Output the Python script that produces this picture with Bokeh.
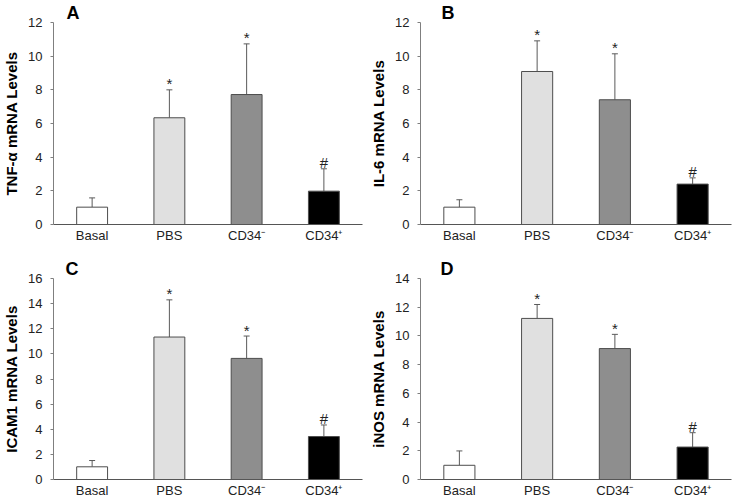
from bokeh.plotting import figure
from bokeh.layouts import gridplot
from bokeh.models import ColumnDataSource, Whisker, TeeHead, FactorRange, Range1d, FixedTicker
from bokeh.embed import file_html
from bokeh.resources import INLINE
from bokeh.core.properties import value

categories = ["Basal", "PBS", "CD34\u207b", "CD34\u207a"]
bar_colors = ["#ffffff", "#e0e0e0", "#8e8e8e", "#000000"]
sig_marks = ["", "*", "*", "#"]

tnf_mean = [1.03, 6.34, 7.72, 1.98]
tnf_err = [0.55, 1.66, 3.01, 1.33]
il6_mean = [1.03, 9.09, 7.41, 2.40]
il6_err = [0.44, 1.82, 2.73, 0.37]
icam_mean = [1.01, 11.34, 9.64, 3.42]
icam_err = [0.50, 2.96, 1.78, 0.92]
inos_mean = [0.99, 11.22, 9.12, 2.26]
inos_err = [1.00, 0.97, 0.99, 1.00]

FONT = "Liberation Sans"


def panel(means, errs, ymax, ylabel, letter, width, height, bl, br, bt, bb, letter_dx):
    p = figure(x_range=FactorRange(*categories), y_range=Range1d(0, ymax),
               width=width, height=height, output_backend="svg", toolbar_location=None,
               min_border_left=bl, min_border_right=br, min_border_top=bt, min_border_bottom=bb,
               title=letter)
    upper = [m + e for m, e in zip(means, errs)]
    src = ColumnDataSource(dict(x=categories, top=means, lower=means, upper=upper,
                                color=bar_colors, mark=sig_marks))
    p.vbar(x="x", top="top", width=0.4, source=src, fill_color="color",
           line_color="#4d4d4d", line_width=1)
    w = Whisker(base="x", lower="lower", upper="upper", source=src,
                line_color="#5a5a5a", line_width=1,
                upper_head=TeeHead(size=6, line_color="#5a5a5a", line_width=1),
                lower_head=None)
    p.add_layout(w)
    p.text(x="x", y="upper", text="mark", source=src, text_align="center",
           text_baseline="alphabetic", y_offset=-6, text_font=value(FONT),
           text_font_size="15px", text_color="#222222")

    t = p.title
    t.align = "left"
    t.offset = letter_dx
    t.standoff = 0
    t.text_font = FONT
    t.text_font_size = "18px"
    t.text_font_style = "bold"
    t.text_color = "#000000"

    p.xgrid.visible = False
    p.ygrid.visible = False
    p.outline_line_color = None
    p.background_fill_color = "white"
    p.border_fill_color = "white"

    ya = p.yaxis[0]
    ya.ticker = FixedTicker(ticks=list(range(0, ymax + 1, 2)))
    ya.minor_tick_line_color = None
    ya.major_tick_in = 0
    ya.major_tick_out = 3
    ya.major_tick_line_color = "#7f7f7f"
    ya.axis_line_color = "#7f7f7f"
    ya.major_label_standoff = 8
    ya.major_label_text_font = FONT
    ya.major_label_text_font_size = "13px"
    ya.major_label_text_color = "#222222"
    ya.axis_label = ylabel
    ya.axis_label_text_font = FONT
    ya.axis_label_text_font_size = "15px"
    ya.axis_label_text_font_style = "bold"
    ya.axis_label_text_color = "#000000"
    ya.axis_label_standoff = 5

    xa = p.xaxis[0]
    xa.major_tick_line_color = None
    xa.minor_tick_line_color = None
    xa.major_tick_in = 0
    xa.major_tick_out = 0
    xa.axis_line_color = "#555555"
    xa.major_label_standoff = 3
    xa.major_label_text_font = FONT
    xa.major_label_text_font_size = "13px"
    xa.major_label_text_color = "#222222"
    return p


pA = panel(tnf_mean, tnf_err, 12, "TNF-\u03b1 mRNA Levels", "A", 367, 250, 50, 5, 22, 26, 13)
pB = panel(il6_mean, il6_err, 12, "IL-6 mRNA Levels", "B", 366, 250, 52, 2, 22, 26, 21)
pC = panel(icam_mean, icam_err, 16, "ICAM1 mRNA Levels", "C", 367, 252, 50, 5, 28, 23, 12)
pD = panel(inos_mean, inos_err, 14, "iNOS mRNA Levels", "D", 366, 252, 53, 2, 28, 23, 20)

grid = gridplot([[pA, pB], [pC, pD]], toolbar_location=None)
open("out.html", "w").write(file_html(grid, INLINE))
